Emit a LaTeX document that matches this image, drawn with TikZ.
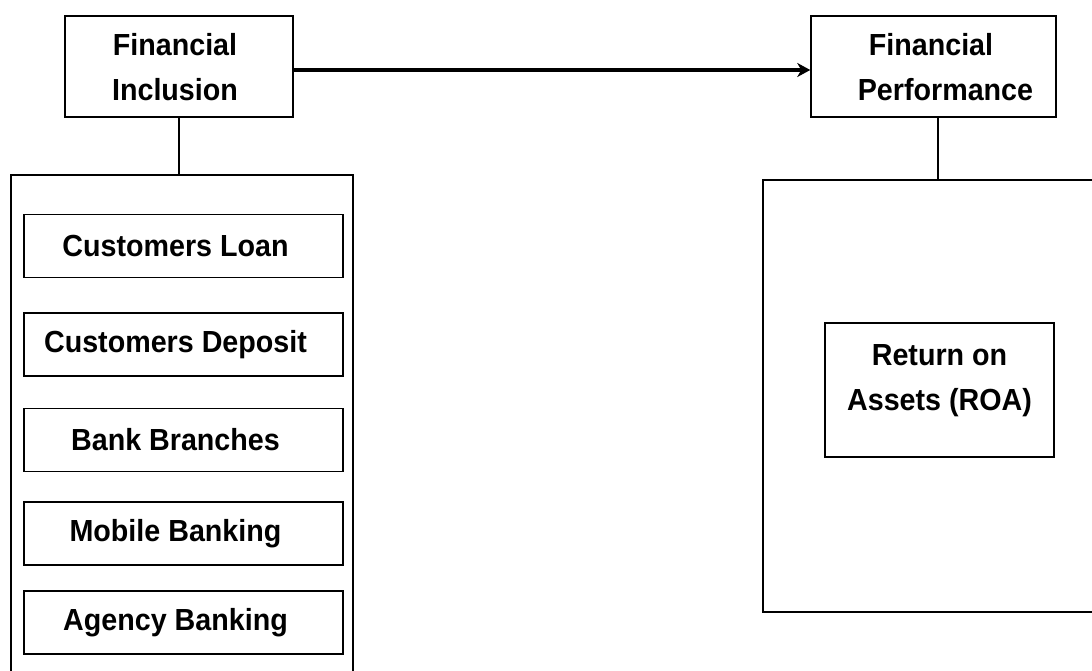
\documentclass[tikz,border=0pt]{standalone}
\usepackage{fontspec}
\setmainfont{Liberation Sans}[FakeStretch=0.94]
\usetikzlibrary{arrows.meta}
\tikzset{
  lbl/.style={font=\bfseries\fontsize{30.5}{45}\selectfont, align=center, inner sep=0pt},
  box/.style={draw, line width=1.5pt, inner sep=0pt, minimum width=#1},
  itembox/.style={draw, line width=1.5pt, inner sep=0pt, minimum width=319, minimum height=63,
    label={[lbl, xshift=-8]center:#1}},
  conn/.style={line width=1.5pt},
  mainarrow/.style={line width=3.2pt, -{Stealth[length=13pt,width=14pt,inset=4pt]}}
}
\begin{document}
\begin{tikzpicture}[x=1pt,y=-1pt]
\useasboundingbox (0,0) rectangle (1092,671);
\clip (0,0) rectangle (1092,671);
\fill[white] (0,0) rectangle (1092,671);
% top boxes
\node[box=228, minimum height=101, label={[lbl, xshift=-4, yshift=-1]center:Financial\\Inclusion}] (fi) at (179,66.5) {};
\node[box=245, minimum height=101, label={[lbl, align=left, xshift=12, yshift=-1]center:\hspace*{11pt}Financial\\Performance}] (fp) at (933.5,66.5) {};
% big containers
\node[box=342, minimum height=525] (lbig) at (182,437.5) {};
\node[box=357, minimum height=432] (rbig) at (941.5,396) {};
% items
\node[itembox={Customers Loan}] (cl) at (183.5,246) {};
\node[itembox={Customers Deposit}] (cd) at (183.5,344.5) {};
\node[itembox={Bank Branches}] (bb) at (183.5,440) {};
\node[itembox={Mobile Banking}] (mb) at (183.5,533.5) {};
\node[itembox={Agency Banking}] (ab) at (183.5,622.5) {};
\node[box=229, minimum height=134, label={[lbl, yshift=9]center:Return on\\Assets (ROA)}] (roa) at (939.5,390) {};
% connectors
\draw[mainarrow] ([yshift=-3.5]fi.east) -- ([yshift=-3.5]fp.west);
\draw[conn] (fi.south) -- (fi.south |- lbig.north);
\draw[conn] ([xshift=4.5]fp.south) -- ([xshift=4.5]fp.south |- rbig.north);
\end{tikzpicture}
\end{document}
